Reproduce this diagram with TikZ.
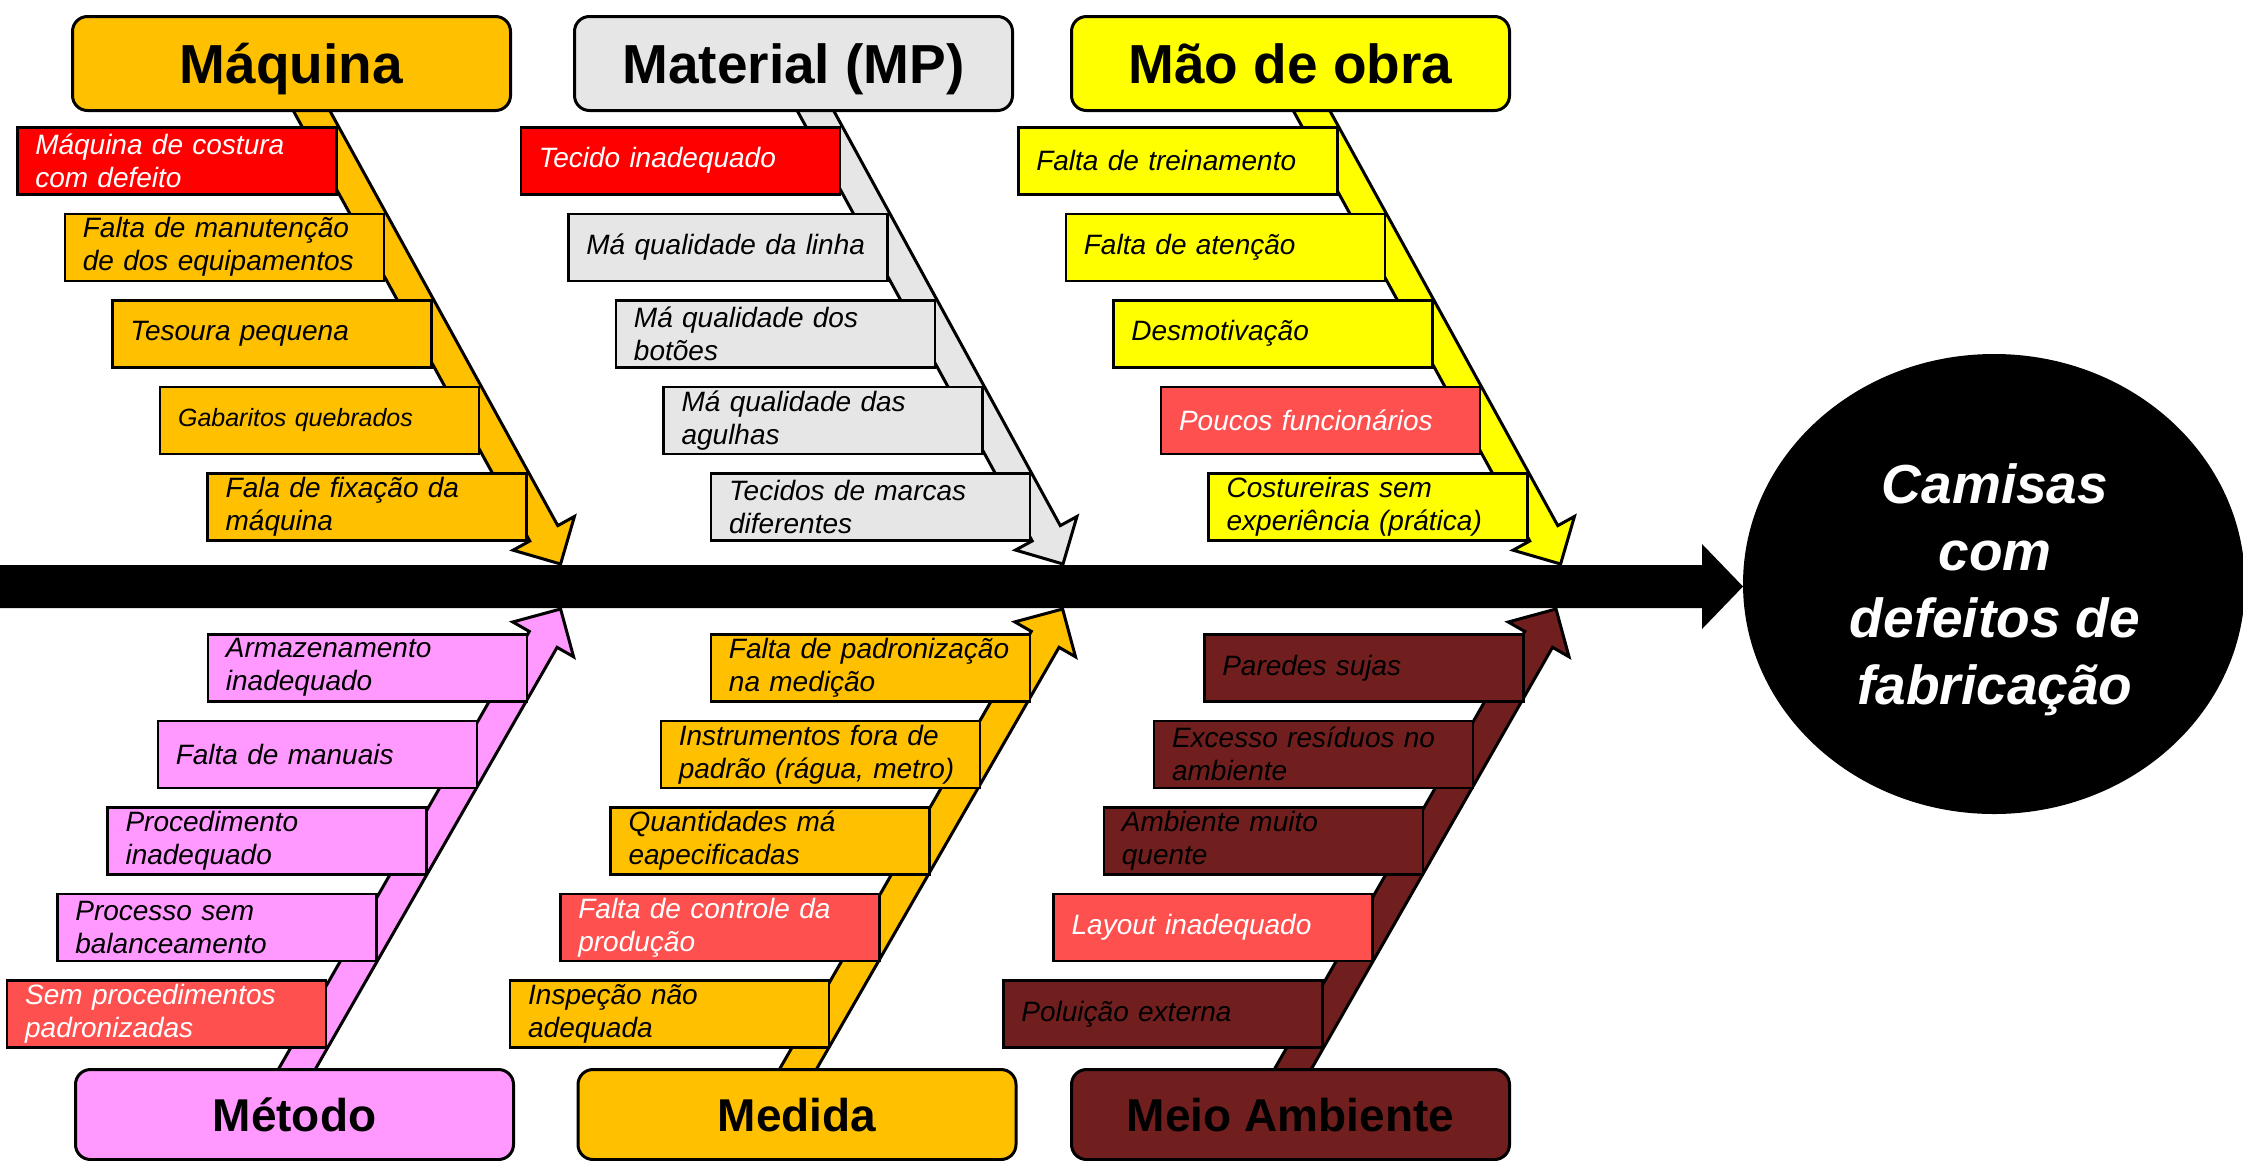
\documentclass[tikz,border=0pt]{standalone}
\usepackage{fontspec}
\setmainfont{Liberation Sans}
\usetikzlibrary{calc,shapes.geometric}
\definecolor{cOrange}{HTML}{FFC000}
\definecolor{cGray}{HTML}{E6E6E6}
\definecolor{cYellow}{HTML}{FFFF00}
\definecolor{cPink}{HTML}{FF99FF}
\definecolor{cBrown}{HTML}{701F1E}
\definecolor{cRed}{HTML}{FF0000}
\definecolor{cSalmon}{HTML}{FF5050}
\tikzset{
  cause/.style={draw=black, line width=2.5pt, rectangle, anchor=north west,
    minimum width=319pt, minimum height=67pt, text width=283pt,
    inner xsep=18pt, inner ysep=0pt, align=left,
    font=\fontsize{28}{33}\selectfont\itshape},
  headbox/.style={draw=black, line width=3pt, rounded corners=15pt,
    minimum width=438pt, minimum height=94pt, anchor=north west, inner sep=0pt,
    text height=39.4pt, text depth=0pt,
    font=\fontsize{55}{60}\selectfont\bfseries},
  headlow/.style={headbox, minimum height=90pt, text height=33pt, text depth=-2pt,
    font=\fontsize{46}{50}\selectfont\bfseries},
  hot/.style={fill=cRed, text=white},
  warm/.style={fill=cSalmon, text=white},
  bone/.style={draw=black, line width=3pt, line join=miter, miter limit=10},
}
\newcommand\fishbone[3]{%
  \coordinate (hb) at ($(#2)!35pt!(#1)$);
  \filldraw[bone, fill=#3]
    ($(#1)!16pt!90:(#2)$) -- ($(hb)!16pt!90:(#2)$) -- ($(hb)!35pt!90:(#2)$) -- (#2)
    -- ($(hb)!35pt!-90:(#2)$) -- ($(hb)!16pt!-90:(#2)$) -- ($(#1)!16pt!-90:(#2)$) -- cycle;
}
\begin{document}
\begin{tikzpicture}[x=1pt,y=-1pt]
\useasboundingbox[fill=white] (0,0) rectangle (2243,1160);

% spine
\coordinate (spineL) at (0,586.5);
\coordinate (spineT) at (1743,586.5);
\fill[black] (spineL) ++(0,-21.5) -- (1702,565) -- (1702,544) -- (spineT) -- (1702,629) -- (1702,608) -- (0,608) -- cycle;

% bone coordinates
\coordinate (mqS) at (294.7,80);   \coordinate (mqT) at (560.6,564);
\coordinate (mtS) at (798.7,80);   \coordinate (mtT) at (1063,564);
\coordinate (moS) at (1294.7,80);  \coordinate (moT) at (1560.6,564);
\coordinate (meS) at (273.5,1110); \coordinate (meT) at (560.6,609);
\coordinate (mdS) at (774.5,1110); \coordinate (mdT) at (1062.6,609);
\coordinate (maS) at (1269.5,1110);\coordinate (maT) at (1556,609);

\fishbone{mqS}{mqT}{cOrange}
\fishbone{mtS}{mtT}{cGray}
\fishbone{moS}{moT}{cYellow}
\fishbone{meS}{meT}{cPink}
\fishbone{mdS}{mdT}{cOrange}
\fishbone{maS}{maT}{cBrown}

% Maquina causes
\node[cause, hot] (mq1) at (16,126) {Máquina de costura\\com defeito};
\node[cause, fill=cOrange] (mq2) at (63.6,212.5) {Falta de manutenção\\de dos equipamentos};
\node[cause, fill=cOrange] (mq3) at (111.2,299) {Tesoura pequena};
\node[cause, fill=cOrange, font=\fontsize{25}{30}\selectfont\itshape] (mq4) at (158.8,385.5) {Gabaritos quebrados};
\node[cause, fill=cOrange] (mq5) at (206.4,472) {Fala de fixação da\\máquina};

% Material causes
\node[cause, hot] (mt1) at (519.5,126) {Tecido inadequado};
\node[cause, fill=cGray] (mt2) at (567.1,212.5) {Má qualidade da linha};
\node[cause, fill=cGray] (mt3) at (614.7,299) {Má qualidade dos\\botões};
\node[cause, fill=cGray] (mt4) at (662.3,385.5) {Má qualidade das\\agulhas};
\node[cause, fill=cGray] (mt5) at (709.9,472) {Tecidos de marcas\\diferentes};

% Mao de obra causes
\node[cause, fill=cYellow] (mo1) at (1017,126) {Falta de treinamento};
\node[cause, fill=cYellow] (mo2) at (1064.6,212.5) {Falta de atenção};
\node[cause, fill=cYellow] (mo3) at (1112.2,299) {Desmotivação};
\node[cause, warm] (mo4) at (1159.8,385.5) {Poucos funcionários};
\node[cause, fill=cYellow] (mo5) at (1207.4,472) {Costureiras sem\\experiência (prática)};

% Metodo causes
\node[cause, fill=cPink] (me1) at (206.7,633) {Armazenamento\\inadequado};
\node[cause, fill=cPink] (me2) at (156.5,719.5) {Falta de manuais};
\node[cause, fill=cPink] (me3) at (106.3,806) {Procedimento\\inadequado};
\node[cause, fill=cPink] (me4) at (56.1,892.5) {Processo sem\\balanceamento};
\node[cause, warm] (me5) at (5.9,979) {Sem procedimentos\\padronizadas};

% Medida causes
\node[cause, fill=cOrange] (md1) at (709.7,633) {Falta de padronização\\na medição};
\node[cause, fill=cOrange] (md2) at (659.5,719.5) {Instrumentos fora de\\padrão (rágua, metro)};
\node[cause, fill=cOrange] (md3) at (609.3,806) {Quantidades má\\eapecificadas};
\node[cause, warm] (md4) at (559.1,892.5) {Falta de controle da\\produção};
\node[cause, fill=cOrange] (md5) at (508.9,979) {Inspeção não\\adequada};

% Meio ambiente causes
\node[cause, fill=cBrown] (ma1) at (1203,633) {Paredes sujas};
\node[cause, fill=cBrown] (ma2) at (1152.8,719.5) {Excesso resíduos no\\ambiente};
\node[cause, fill=cBrown] (ma3) at (1102.6,806) {Ambiente muito\\quente};
\node[cause, warm] (ma4) at (1052.4,892.5) {Layout inadequado};
\node[cause, fill=cBrown] (ma5) at (1002.2,979) {Poluição externa};

% headers
\node[headbox, fill=cOrange] (maquina) at (71,15) {Máquina};
\node[headbox, fill=cGray] (material) at (573,15) {Material (MP)};
\node[headbox, fill=cYellow] (maodeobra) at (1070,15) {Mão de obra};
\node[headlow, fill=cPink] (metodo) at (74,1068) {Método};
\node[headlow, fill=cOrange] (medida) at (576.5,1068) {Medida};
\node[headlow, fill=cBrown] (meio) at (1070,1068) {Meio Ambiente};

% effect
\node[ellipse, fill=black, minimum width=502pt, minimum height=460pt, inner sep=0pt]
  (effect) at (1994,584) {};
\node[text=white, align=center, inner sep=0pt,
  font=\fontsize{55}{67}\selectfont\bfseries\itshape]
  (effecttext) at ($(effect.center)+(1,6)$) {Camisas\\com\\defeitos de\\fabricação};
\end{tikzpicture}
\end{document}
